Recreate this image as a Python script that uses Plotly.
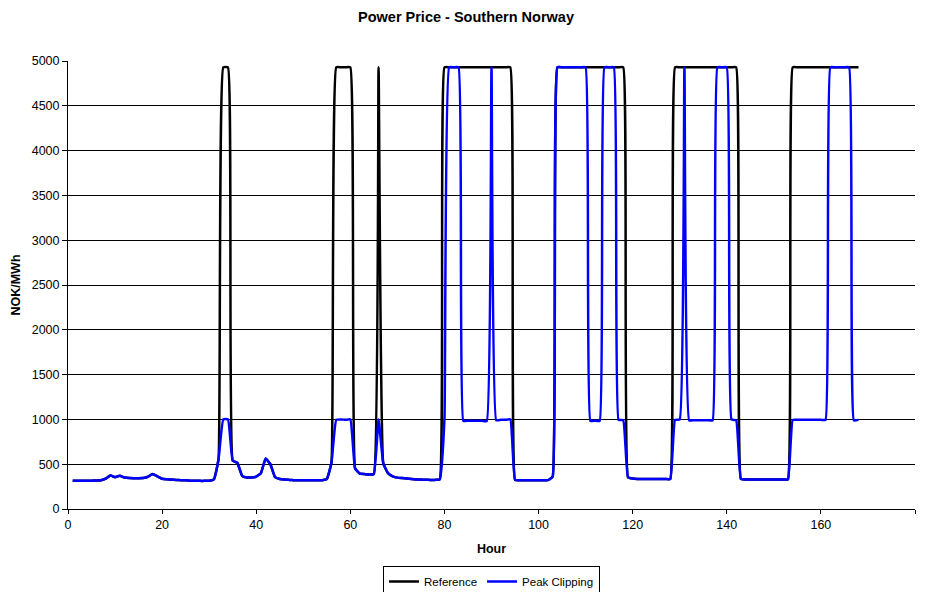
import plotly.graph_objects as go

hours = list(range(1, 169))

reference = [
    315, 315, 315, 315, 316, 318, 322, 338, 375, 355,          # 1-10
    372, 352, 345, 343, 343, 345, 360, 392, 365, 338,          # 11-20
    332, 328, 324, 322, 320, 316, 315, 314, 314, 316,          # 21-30
    330, 560, 4930, 4930, 540, 515, 370, 352, 352, 362,        # 31-40
    400, 565, 500, 355, 335, 328, 325, 322, 322, 322,          # 41-50
    322, 322, 322, 322, 335, 520, 4930, 4930, 4930, 4930,      # 51-60
    455, 395, 390, 385, 390, 4930, 510, 400, 365, 350,         # 61-70
    345, 340, 335, 330, 328, 326, 325, 325, 330, 4930,         # 71-80
    4930, 4930, 4930, 4930, 4930, 4930, 4930, 4930, 4930, 4930,  # 81-90
    4930, 4930, 4930, 4930, 325, 322, 322, 322, 322, 322,      # 91-100
    322, 322, 360, 4930, 4930, 4930, 4930, 4930, 4930, 4930,   # 101-110
    4930, 4930, 4930, 4930, 4930, 4930, 4930, 4930, 355, 340,  # 111-120
    335, 335, 335, 335, 335, 335, 335, 335, 4930, 4930,        # 121-130
    4930, 4930, 4930, 4930, 4930, 4930, 4930, 4930, 4930, 4930,  # 131-140
    4930, 4930, 335, 330, 330, 330, 330, 330, 330, 330,        # 141-150
    330, 330, 330, 4930, 4930, 4930, 4930, 4930, 4930, 4930,   # 151-160
    4930, 4930, 4930, 4930, 4930, 4930, 4930, 4930,            # 161-168
]

peak_clipping = [
    315, 315, 315, 315, 316, 318, 322, 338, 375, 355,          # 1-10
    372, 352, 345, 343, 343, 345, 360, 392, 365, 338,          # 11-20
    332, 328, 324, 322, 320, 316, 315, 314, 314, 316,          # 21-30
    330, 560, 1000, 1000, 540, 515, 370, 352, 352, 362,        # 31-40
    400, 565, 500, 355, 335, 328, 325, 322, 322, 322,          # 41-50
    322, 322, 322, 322, 335, 520, 995, 1000, 995, 1000,        # 51-60
    455, 395, 390, 385, 390, 1000, 510, 400, 365, 350,         # 61-70
    345, 340, 335, 330, 328, 326, 325, 325, 330, 1000,         # 71-80
    4930, 4930, 4930, 985, 985, 985, 985, 985, 980, 4930,      # 81-90
    990, 995, 995, 1000, 325, 322, 322, 322, 322, 322,         # 91-100
    322, 322, 360, 4930, 4930, 4930, 4930, 4930, 4930, 4930,   # 101-110
    985, 985, 985, 4930, 4930, 4930, 995, 990, 355, 340,       # 111-120
    335, 335, 335, 335, 335, 335, 335, 335, 995, 1000,         # 121-130
    4930, 990, 990, 990, 990, 990, 990, 4930, 4930, 4930,      # 131-140
    1000, 990, 335, 330, 330, 330, 330, 330, 330, 330,         # 141-150
    330, 330, 330, 995, 995, 995, 995, 995, 995, 995,          # 151-160
    995, 4930, 4930, 4930, 4930, 4930, 990, 995,               # 161-168
]

x_ticks = [0, 20, 40, 60, 80, 100, 120, 140, 160, 180]
y_ticks = [0, 500, 1000, 1500, 2000, 2500, 3000, 3500, 4000, 4500, 5000]

FONT = "Liberation Sans, Arial, sans-serif"
SMOOTH = 0.35

# the page body has an 8px default margin, so the figure is drawn at (8, 8)
W, H = 917, 584

fig = go.Figure()
fig.add_trace(go.Scatter(
    x=hours, y=reference, name="Reference", mode="lines",
    line=dict(color="#000000", width=2.5, shape="spline", smoothing=SMOOTH),
))
fig.add_trace(go.Scatter(
    x=hours, y=peak_clipping, name="Peak Clipping", mode="lines",
    line=dict(color="#0000FF", width=2.5, shape="spline", smoothing=SMOOTH),
))

fig.update_layout(
    width=W, height=H,
    margin=dict(l=60, r=10, t=53, b=83, pad=0, autoexpand=False),
    paper_bgcolor="white", plot_bgcolor="white",
    font=dict(family=FONT, size=12, color="black"),
    title=dict(text="<b>Power Price - Southern Norway</b>", x=458 / W, xanchor="center",
               y=1 - 8.5 / H, yanchor="middle", font=dict(size=14.5, family=FONT)),
    xaxis=dict(
        range=[0, 180], tickvals=x_ticks, ticks="outside", ticklen=4,
        tickcolor="black", showline=True, linecolor="black", linewidth=1,
        showgrid=False, zeroline=False, tickfont=dict(size=12.5), automargin=False,
        title=dict(text="<b>Hour</b>", font=dict(size=12.5), standoff=13),
    ),
    yaxis=dict(
        range=[0, 5000], tickvals=y_ticks, ticks="outside", ticklen=5,
        tickcolor="black", showline=True, linecolor="black", linewidth=1,
        showgrid=True, gridcolor="black", gridwidth=1, zeroline=False,
        tickfont=dict(size=12.5), automargin=False,
        title=dict(text="<b>NOK/MWh</b>", font=dict(size=12.5), standoff=8),
    ),
    legend=dict(
        orientation="h", x=0.5, xanchor="center",
        yref="container", y=1 - 558 / H, yanchor="top",
        bordercolor="black", borderwidth=1, font=dict(size=11.5),
        itemwidth=30, tracegroupgap=0,
    ),
)

fig.write_html("out.html")
